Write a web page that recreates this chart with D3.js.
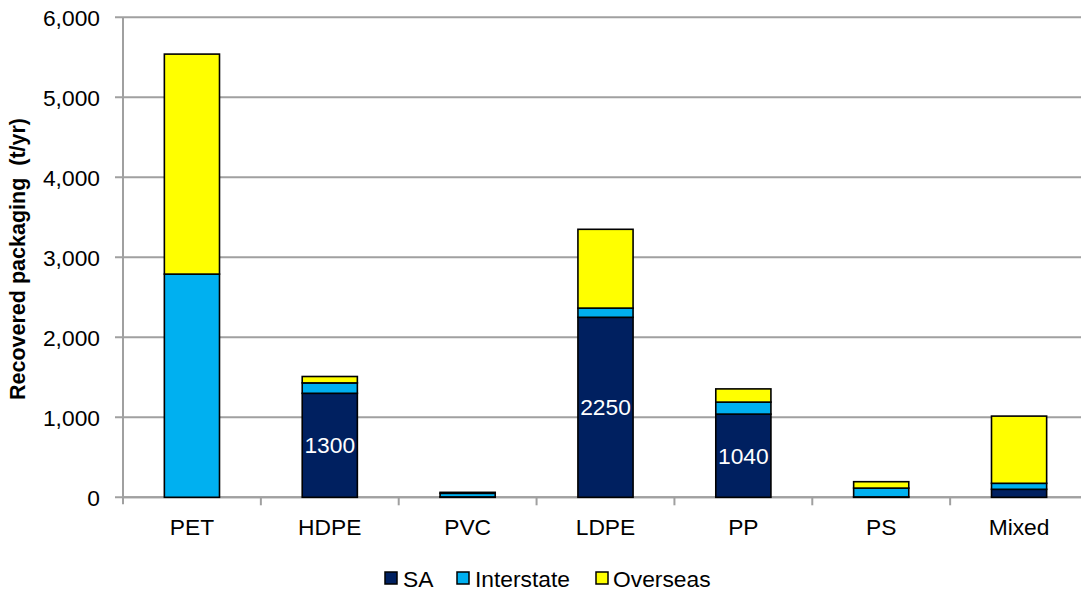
<!DOCTYPE html>
<html>
<head>
<meta charset="utf-8">
<script src="https://cdn.jsdelivr.net/npm/d3@7"></script>
<style>
  html, body { margin: 0; padding: 0; background: #fff; }
  svg { display: block; font-family: "Liberation Sans", Arial, sans-serif; }
</style>
</head>
<body>
<svg id="chart" width="1081" height="592"></svg>
<script>
// Recovered plastic packaging by polymer and destination (t/yr)
const categories = ["PET", "HDPE", "PVC", "LDPE", "PP", "PS", "Mixed"];
const seriesNames = ["SA", "Interstate", "Overseas"];
const saValues = [0, 1300, 5, 2250, 1040, 5, 100];
const interstateValues = [2790, 130, 45, 115, 150, 110, 75];
const overseasValues = [2750, 80, 12, 985, 165, 80, 840];
const labelledSA = [null, 1300, null, 2250, 1040, null, null];
const yTicks = [0, 1000, 2000, 3000, 4000, 5000, 6000];

const colors = { SA: "#002060", Interstate: "#00B0F0", Overseas: "#FFFF00" };
const fontSize = 22.8;

const svg = d3.select("#chart");
const plotLeft = 123, plotRight = 1088, plotTop = 17.3, plotBottom = 497.3;

const x = d3.scaleBand().domain(categories).range([plotLeft, plotRight]).paddingInner(0.6).paddingOuter(0.3);
const xTick = d3.scaleBand().domain(categories).range([plotLeft, plotRight]);
const y = d3.scaleLinear().domain([0, 6000]).range([plotBottom, plotTop]);

const rows = categories.map((c, i) => ({
  cat: c, SA: saValues[i], Interstate: interstateValues[i], Overseas: overseasValues[i]
}));
const stacked = d3.stack().keys(seriesNames)(rows);

// Horizontal gridlines with short outside ticks
const yAxis = d3.axisLeft(y).tickValues(yTicks).tickFormat(d3.format(",")).tickSize(0).tickPadding(0);
const gy = svg.append("g").attr("transform", `translate(${plotLeft},0)`);
gy.selectAll("line.grid").data(yTicks).join("line")
  .attr("class", "grid")
  .attr("x1", -8).attr("x2", plotRight - plotLeft)
  .attr("y1", d => y(d)).attr("y2", d => y(d))
  .attr("stroke", "#a0a0a0").attr("stroke-width", 2);
gy.call(yAxis);
gy.select(".domain").remove();
gy.selectAll(".tick text")
  .attr("x", -23).attr("dy", "0.35em")
  .attr("font-size", fontSize).attr("fill", "#000")
  .attr("font-family", "'Liberation Sans', Arial, sans-serif");

// Vertical axis line
svg.append("line")
  .attr("x1", plotLeft).attr("x2", plotLeft).attr("y1", plotTop).attr("y2", plotBottom + 7)
  .attr("stroke", "#a0a0a0").attr("stroke-width", 2);

// Category axis
const gx = svg.append("g").attr("transform", `translate(0,${plotBottom})`);
gx.append("line").attr("x1", plotLeft).attr("x2", plotRight).attr("stroke", "#a0a0a0").attr("stroke-width", 2);
gx.selectAll("line.sep").data(categories.slice(1)).join("line")
  .attr("class", "sep")
  .attr("x1", d => xTick(d)).attr("x2", d => xTick(d))
  .attr("y1", 0).attr("y2", 8)
  .attr("stroke", "#a0a0a0").attr("stroke-width", 2);
gx.selectAll("text").data(categories).join("text")
  .attr("x", d => x(d) + x.bandwidth() / 2)
  .attr("y", 38)
  .attr("text-anchor", "middle")
  .attr("font-size", fontSize)
  .text(d => d);

// Stacked bars
svg.append("g").selectAll("g").data(stacked).join("g")
  .attr("fill", d => colors[d.key])
  .selectAll("rect").data(d => d).join("rect")
  .attr("x", d => x(d.data.cat))
  .attr("width", x.bandwidth())
  .attr("y", d => y(d[1]))
  .attr("height", d => y(d[0]) - y(d[1]))
  .attr("stroke", "#000")
  .attr("stroke-width", 1.6);

// SA value labels
svg.append("g").selectAll("text")
  .data(categories.map((c, i) => ({ cat: c, v: labelledSA[i] })).filter(d => d.v !== null))
  .join("text")
  .attr("x", d => x(d.cat) + x.bandwidth() / 2)
  .attr("y", d => y(d.v / 2))
  .attr("dy", "0.35em")
  .attr("text-anchor", "middle")
  .attr("font-size", fontSize)
  .attr("fill", "#fff")
  .text(d => d.v);

// Y axis title
svg.append("text")
  .attr("transform", `translate(25,259) rotate(-90)`)
  .attr("text-anchor", "middle")
  .attr("font-size", 21.5)
  .attr("font-weight", "bold")
  .style("white-space", "pre")
  .text("Recovered packaging  (t/yr)");

// Legend
const legendItems = [
  { key: "SA", sx: 385, tx: 403 },
  { key: "Interstate", sx: 457, tx: 475 },
  { key: "Overseas", sx: 596, tx: 613 }
];
const lg = svg.append("g");
lg.selectAll("rect").data(legendItems).join("rect")
  .attr("x", d => d.sx).attr("y", 572).attr("width", 12).attr("height", 12)
  .attr("fill", d => colors[d.key]).attr("stroke", "#000").attr("stroke-width", 1.5);
lg.selectAll("text").data(legendItems).join("text")
  .attr("x", d => d.tx).attr("y", 587)
  .attr("font-size", fontSize)
  .text(d => d.key);
</script>
</body>
</html>
